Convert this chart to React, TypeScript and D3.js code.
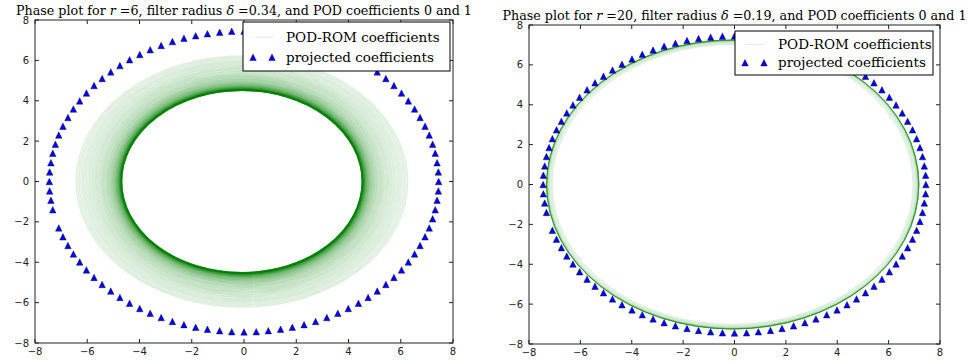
import React from 'react';
import * as d3 from 'd3';

// ---------- data ----------
const xTicks = [-8, -6, -4, -2, 0, 2, 4, 6, 8];
const yTicks = [-8, -6, -4, -2, 0, 2, 4, 6, 8];

// projected coefficients (same snapshots in both panels)
const projX = [
  -7.09, -6.93, -6.74, -6.53, -6.29, -6.03, -5.74, -5.43, -5.10, -4.75, -4.38, -3.99, -3.59, -3.17, -2.74, -2.30,
  -1.85, -1.40, -0.93, -0.47, 0.0, 0.47, 0.93, 1.40, 1.85, 2.30, 2.74, 3.17, 3.59, 3.99, 4.38, 4.75, 5.10, 5.43,
  5.74, 6.03, 6.29, 6.53, 6.74, 6.93, 7.09, 7.22, 7.32, 7.39, 7.44, 7.45, 7.44, 7.39, 7.32, 7.22, 7.09, 6.93,
  6.74, 6.53, 6.29, 6.03, 5.74, 5.43, 5.10, 4.75, 4.38, 3.99, 3.59, 3.17, 2.74, 2.30, 1.85, 1.40, 0.93, 0.47,
  0.0, -0.47, -0.93, -1.40, -1.85, -2.30, -2.74, -3.17, -3.59, -3.99, -4.38, -4.75, -5.10, -5.43, -5.74, -6.03,
  -6.29, -6.53, -6.74, -6.93, -7.09, -7.22, -7.32, -7.39, -7.44, -7.45, -7.44, -7.39, -7.32,
];
const projY = [
  -2.30, -2.74, -3.17, -3.59, -3.99, -4.38, -4.75, -5.10, -5.43, -5.74, -6.03, -6.29, -6.53, -6.74, -6.93, -7.09,
  -7.22, -7.32, -7.39, -7.44, -7.45, -7.44, -7.39, -7.32, -7.22, -7.09, -6.93, -6.74, -6.53, -6.29, -6.03, -5.74,
  -5.43, -5.10, -4.75, -4.38, -3.99, -3.59, -3.17, -2.74, -2.30, -1.85, -1.40, -0.93, -0.47, 0.0, 0.47, 0.93,
  1.40, 1.85, 2.30, 2.74, 3.17, 3.59, 3.99, 4.38, 4.75, 5.10, 5.43, 5.74, 6.03, 6.29, 6.53, 6.74, 6.93, 7.09,
  7.22, 7.32, 7.39, 7.44, 7.45, 7.44, 7.39, 7.32, 7.22, 7.09, 6.93, 6.74, 6.53, 6.29, 6.03, 5.74, 5.43, 5.10,
  4.75, 4.38, 3.99, 3.59, 3.17, 2.74, 2.30, 1.85, 1.40, 0.93, 0.47, 0.0, -0.47, -0.93, -1.40,
];

// POD-ROM trajectory: amplitude (x) of each revolution
const leftRevAmp = [
  6.35, 6.29, 6.23, 6.17, 6.11, 6.06, 6.01, 5.96, 5.91, 5.86, 5.82, 5.77, 5.73, 5.69, 5.65, 5.61, 5.58, 5.54,
  5.51, 5.47, 5.44, 5.41, 5.38, 5.35, 5.33, 5.3, 5.28, 5.25, 5.23, 5.2, 5.18, 5.16, 5.14, 5.12, 5.1, 5.08, 5.06,
  5.05, 5.03, 5.01, 5.0, 4.98, 4.97, 4.95, 4.94, 4.93, 4.92, 4.9, 4.89, 4.88, 4.87, 4.86, 4.85, 4.84, 4.83, 4.82,
  4.81, 4.8, 4.8, 4.79, 4.78, 4.77, 4.77, 4.76, 4.75, 4.75, 4.74, 4.73, 4.73, 4.72, 4.72, 4.71, 4.71, 4.7, 4.7,
  4.69, 4.69, 4.68, 4.68, 4.68, 4.67, 4.67, 4.67, 4.66, 4.66, 4.66, 4.65, 4.65, 4.65, 4.64, 4.64, 4.64, 4.64,
  4.63, 4.63, 4.63, 4.63, 4.63, 4.62, 4.62, 4.62, 4.62, 4.62, 4.62, 4.61, 4.61, 4.61, 4.61, 4.61, 4.61, 4.61,
  4.6, 4.6, 4.6, 4.6, 4.6, 4.6, 4.6, 4.6, 4.6,
];
const leftCenterX = -0.08;
const leftAspect = 0.98;

const rightRevAmp = [
  7.02, 7.06, 7.1, 7.13, 7.16, 7.18, 7.2, 7.21, 7.22, 7.23, 7.235, 7.24, 7.24, 7.245, 7.245, 7.25, 7.25,
  7.25, 7.25, 7.25, 7.25, 7.25, 7.25,
];
const rightCenterX = -0.07;
const rightAspect = 1.0;

const panels = [
  {
    r: '6', delta: '0.34', amp: leftRevAmp, cx: leftCenterX, aspect: leftAspect, op: 0.13, sw: 1.2,
    box: { x0: 35, x1: 453, y0: 20, y1: 343 },
    legend: { x: 243, y: 22, w: 207, h: 49 },
  },
  {
    r: '20', delta: '0.19', amp: rightRevAmp, cx: rightCenterX, aspect: rightAspect, op: 0.12, sw: 1,
    box: { x0: 529, x1: 940, y0: 25, y1: 344 },
    legend: { x: 735, y: 31, w: 198, h: 44 },
  },
];

const SERIF = '"DejaVu Serif", serif';
const SANS = '"DejaVu Sans", sans-serif';

function tri(cx: number, cy: number, s: number) {
  const h = s / 2;
  return `M${cx},${cy - h}L${cx + h},${cy + h}L${cx - h},${cy + h}Z`;
}

function Panel({ p }: { p: any }) {
  const { box } = p;
  const x = d3.scaleLinear().domain([-8, 8]).range([box.x0, box.x1]);
  const y = d3.scaleLinear().domain([-8, 8]).range([box.y1, box.y0]);
  const midX = (box.x0 + box.x1) / 2;
  const L = p.legend;
  const tl = 4;
  return (
    <g>
      {/* POD-ROM coefficients */}
      <g fill="none" stroke="#008000" strokeOpacity={p.op} strokeWidth={p.sw}>
        {p.amp.map((a: number, i: number) => (
          <ellipse
            key={i}
            cx={x(p.cx)}
            cy={y(0)}
            rx={x(p.cx + a) - x(p.cx)}
            ry={y(0) - y(a * p.aspect)}
          />
        ))}
      </g>
      {/* projected coefficients */}
      <g fill="#0000ff" stroke="#000" strokeWidth={0.4}>
        {projX.map((v, i) => (
          <path key={i} d={tri(x(v), y(projY[i]), 6.5)} />
        ))}
      </g>
      {/* frame */}
      <rect x={box.x0} y={box.y0} width={box.x1 - box.x0} height={box.y1 - box.y0} fill="none" stroke="#222" strokeWidth={1} />
      {/* ticks */}
      <g stroke="#222" strokeWidth={1}>
        {xTicks.map((t) => (
          <g key={'x' + t}>
            <line x1={x(t)} x2={x(t)} y1={box.y1} y2={box.y1 - tl} />
            <line x1={x(t)} x2={x(t)} y1={box.y0} y2={box.y0 + tl} />
          </g>
        ))}
        {yTicks.map((t) => (
          <g key={'y' + t}>
            <line x1={box.x0} x2={box.x0 + tl} y1={y(t)} y2={y(t)} />
            <line x1={box.x1} x2={box.x1 - tl} y1={y(t)} y2={y(t)} />
          </g>
        ))}
      </g>
      <g fontFamily={SANS} fontSize={10} fill="#222">
        {xTicks.map((t) => (
          <text key={'xl' + t} x={x(t)} y={box.y1 + 12} textAnchor="middle">
            {t < 0 ? '\u2212' + Math.abs(t) : String(t)}
          </text>
        ))}
        {yTicks.map((t) => (
          <text key={'yl' + t} x={box.x0 - 6} y={y(t) + 3.5} textAnchor="end">
            {t < 0 ? '\u2212' + Math.abs(t) : String(t)}
          </text>
        ))}
      </g>
      {/* title */}
      <text x={midX} y={box.y0 - 5} textAnchor="middle" fontFamily={SERIF} fontSize={12.7} fill="#000">
        <tspan>Phase plot for </tspan>
        <tspan fontStyle="italic">r</tspan>
        <tspan> =</tspan>
        <tspan>{p.r}</tspan>
        <tspan>, filter radius </tspan>
        <tspan fontStyle="italic">δ</tspan>
        <tspan> =</tspan>
        <tspan>{p.delta}</tspan>
        <tspan>, and POD coefficients 0 and 1</tspan>
      </text>
      {/* legend */}
      <rect x={L.x} y={L.y} width={L.w} height={L.h} fill="#fff" stroke="#000" strokeWidth={1} />
      <line x1={L.x + 10} x2={L.x + 30} y1={L.y + L.h * 0.31} y2={L.y + L.h * 0.31} stroke="#008000" strokeOpacity={0.13} />
      <path d={tri(L.x + 10, L.y + L.h * 0.72, 6.5)} fill="#0000ff" stroke="#000" strokeWidth={0.4} />
      <path d={tri(L.x + 29, L.y + L.h * 0.72, 6.5)} fill="#0000ff" stroke="#000" strokeWidth={0.4} />
      <g fontFamily={SERIF} fontSize={13.5} fill="#000">
        <text x={L.x + 43} y={L.y + L.h * 0.31 + 4.5}>POD-ROM coefficients</text>
        <text x={L.x + 43} y={L.y + L.h * 0.72 + 4.5}>projected coefficients</text>
      </g>
    </g>
  );
}

export default function App() {
  return (
    <svg width={969} height={362} style={{ position: 'absolute', left: 0, top: 0, background: '#fff' }}>
      <rect x={0} y={0} width={969} height={362} fill="#fff" />
      {panels.map((p, i) => (
        <Panel key={i} p={p} />
      ))}
    </svg>
  );
}
